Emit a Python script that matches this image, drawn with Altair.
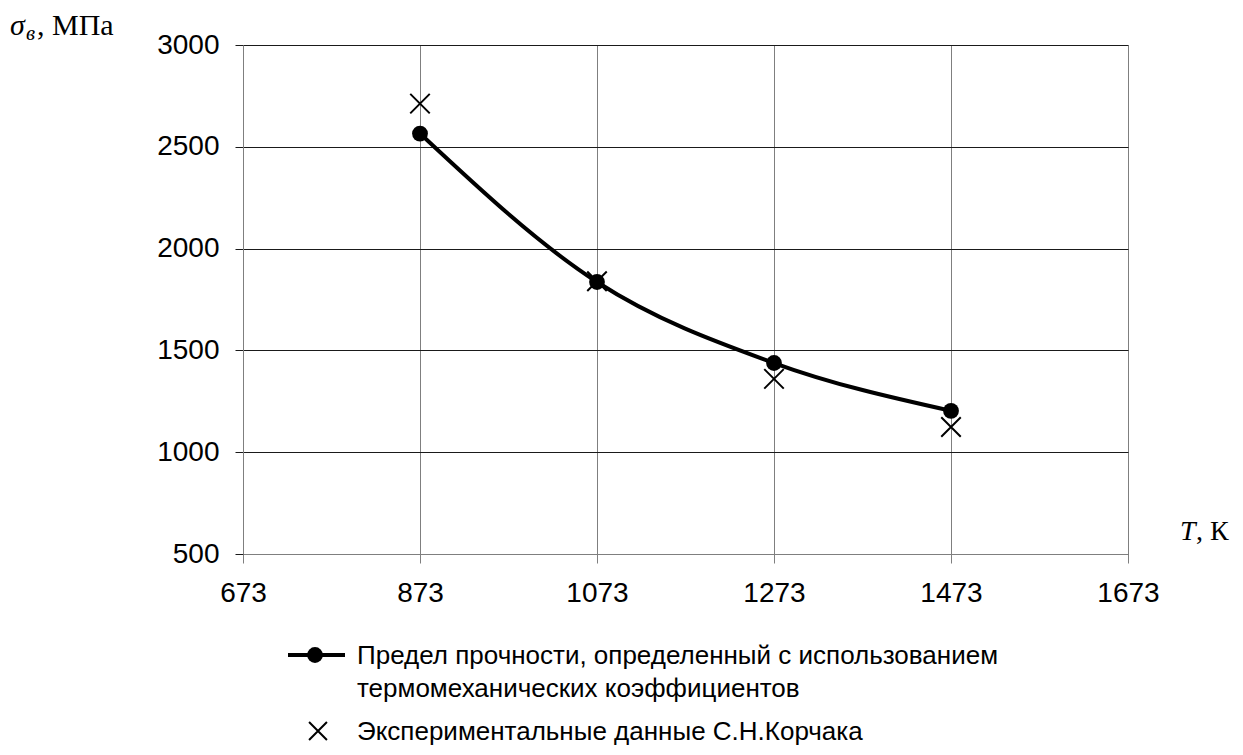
import altair as alt
import pandas as pd

temps = [873, 1073, 1273, 1473]
calc_strength = [2565, 1836, 1438, 1203]
exp_strength = [2712, 1840, 1360, 1124]
x_ticks = [673, 873, 1073, 1273, 1473, 1673]
y_ticks = [500, 1000, 1500, 2000, 2500, 3000]

calc_label_1 = "Предел прочности, определенный с использованием"
calc_label_2 = "термомеханических коэффициентов"
exp_label = "Экспериментальные данные С.Н.Корчака"

df_calc = pd.DataFrame({"T": temps, "s": calc_strength})
df_exp = pd.DataFrame({"T": temps, "s": exp_strength})

W, H = 885, 509
FS = 28
LFS = 26
SANS = "Liberation Sans"
SERIF = "Liberation Serif"
XPATH = "M-1,-1L1,1M-1,1L1,-1"

xscale = alt.Scale(domain=[673, 1673], nice=False, zero=False)
yscale = alt.Scale(domain=[500, 3000], nice=False, zero=False)

xaxis = alt.Axis(values=x_ticks, title=None, grid=True, gridColor="#7f7f7f", gridWidth=1,
                 domainColor="#7f7f7f", tickColor="#7f7f7f", tickSize=9,
                 labelFont=SANS, labelFontSize=FS, labelColor="#000", labelPadding=16,
                 format="d", labelFlush=False)
yaxis = alt.Axis(values=y_ticks, title=None, grid=True, gridColor="#1a1a1a", gridWidth=1,
                 domainColor="#7f7f7f", tickColor="#1a1a1a", tickSize=8,
                 labelFont=SANS, labelFontSize=FS, labelColor="#000", labelPadding=16,
                 format="d", labelFlush=False)

line = alt.Chart(df_calc).mark_line(color="black", strokeWidth=4, interpolate="monotone").encode(
    x=alt.X("T:Q", scale=xscale, axis=xaxis),
    y=alt.Y("s:Q", scale=yscale, axis=yaxis),
)
dots = alt.Chart(df_calc).mark_point(filled=True, color="black", size=250, opacity=1).encode(
    x=alt.X("T:Q", scale=xscale), y=alt.Y("s:Q", scale=yscale)
)
crosses = alt.Chart(df_exp).mark_point(shape=XPATH, filled=False, color="black", size=380,
                                       strokeWidth=2, opacity=1).encode(
    x=alt.X("T:Q", scale=xscale), y=alt.Y("s:Q", scale=yscale)
)

one = pd.DataFrame({"a": [0]})

def txt(text, x, y, font=SANS, size=LFS, style="normal", align="left"):
    return alt.Chart(one).mark_text(text=text, font=font, fontSize=size, fontStyle=style,
                                    align=align, baseline="alphabetic", color="black").encode(
        x=alt.value(x), y=alt.value(y))

# axis titles
sig = txt("σ", -233, -10, font=SERIF, size=30, style="italic")
sub = txt("в", -217, -5, font=SERIF, size=21, style="italic")
mpa = txt(", МПа", -206, -10, font=SERIF, size=30)
t_it = txt("T", 937, 495, font=SERIF, size=28, style="italic")
t_rest = txt(", К", 953, 495, font=SERIF, size=28)

# legend
leg_line = alt.Chart(one).mark_rule(color="black", strokeWidth=4).encode(
    x=alt.value(45), x2=alt.value(102), y=alt.value(610))
leg_dot = alt.Chart(one).mark_point(filled=True, color="black", size=250, opacity=1).encode(
    x=alt.value(72), y=alt.value(610))
leg_cross = alt.Chart(one).mark_point(shape=XPATH, filled=False, color="black", size=320,
                                      strokeWidth=2, opacity=1).encode(
    x=alt.value(75), y=alt.value(686))
l1 = txt(calc_label_1, 114, 619)
l2 = txt(calc_label_2, 114, 652)
l3 = txt(exp_label, 114, 695)

chart = alt.layer(line, dots, crosses, sig, sub, mpa, t_it, t_rest,
                  leg_line, leg_dot, leg_cross, l1, l2, l3).properties(
    width=W, height=H,
    autosize=alt.AutoSizeParams(type="none"),
    padding={"left": 235, "top": 37, "right": 107, "bottom": 193},
).configure_view(stroke=None).configure(background="white")

chart.save("out.html", embed_options={"renderer": "svg", "actions": False})
